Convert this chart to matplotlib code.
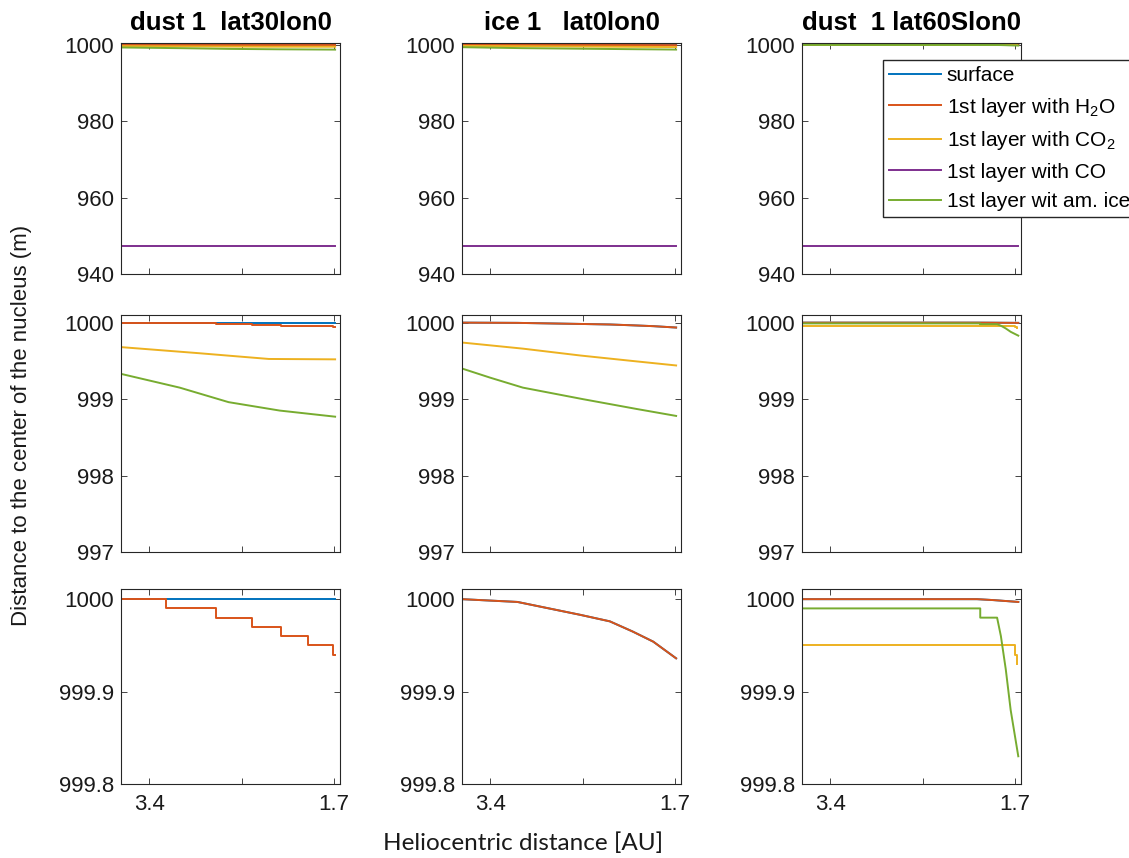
import matplotlib.pyplot as plt

# ---- data ----
titles = ["dust 1  lat30lon0", "ice 1   lat0lon0", "dust  1 lat60Slon0"]
labels = ["surface", "1st layer with H$_2$O", "1st layer with CO$_2$",
          "1st layer with CO", "1st layer wit am. ice"]

x_ticks = [3.4, 2.55, 1.7]
x_tick_labels = ["3.4", "", "1.7"]

y_ticks_top = [940, 960, 980, 1000]
y_ticks_mid = [997, 998, 999, 1000]
y_ticks_low = [999.8, 999.9, 1000]
y_labels_top = ["940", "960", "980", "1000"]
y_labels_mid = ["997", "998", "999", "1000"]
y_labels_low = ["999.8", "999.9", "1000"]

# column 1: dust 1 lat30lon0
surf_x_c1 = [3.66, 1.69]
surf_c1 = [1000.0, 1000.0]
h2o_x_c1 = [3.66, 3.244, 2.784, 2.453, 2.187, 1.939, 1.705, 1.69]
h2o_c1 = [1000.0, 999.99, 999.98, 999.97, 999.96, 999.95, 999.94, 999.94]
co2_x_c1 = [3.66, 3.3, 2.94, 2.6, 2.3, 1.69]
co2_c1 = [999.68, 999.64, 999.60, 999.56, 999.525, 999.52]
co_c1 = [947.4, 947.4]
ice_x_c1 = [3.66, 3.12, 2.67, 2.2, 1.69]
ice_c1 = [999.33, 999.15, 998.96, 998.85, 998.77]

# column 2: ice 1 lat0lon0 (surface follows the H2O layer)
h2o_x_c2 = [3.66, 3.15, 2.57, 2.3, 2.09, 1.9, 1.69]
h2o_c2 = [1000.0, 999.997, 999.983, 999.976, 999.965, 999.954, 999.936]
co2_x_c2 = [3.66, 3.1, 2.57, 2.1, 1.69]
co2_c2 = [999.74, 999.66, 999.57, 999.50, 999.44]
co_x_c2 = [3.66, 1.69]
co_c2 = [947.4, 947.4]
ice_x_c2 = [3.66, 3.4, 3.1, 2.55, 2.05, 1.69]
ice_c2 = [999.40, 999.28, 999.15, 999.00, 998.87, 998.78]

# column 3: dust 1 lat60Slon0 (surface hidden under the H2O layer)
h2o_x_c3 = [3.66, 2.05, 1.9, 1.67]
h2o_c3 = [1000.0, 1000.0, 999.999, 999.997]
co2_x_c3 = [3.66, 1.70, 1.685]
co2_c3 = [999.95, 999.94, 999.93]
co_x_c3 = [3.66, 1.675]
co_c3 = [947.4, 947.4]
ice_x_c3 = [3.66, 2.02, 2.02, 1.865, 1.83, 1.785, 1.74, 1.67]
ice_c3 = [999.99, 999.99, 999.98, 999.98, 999.96, 999.924, 999.88, 999.83]

colors = ["#0072BD", "#D95319", "#EDB120", "#7E2F8E", "#77AC30"]
axis_color = "#262626"

plt.rcParams['font.family'] = ['Liberation Sans', 'DejaVu Sans']
plt.rcParams['mathtext.fontset'] = 'custom'
plt.rcParams['mathtext.rm'] = 'Liberation Sans'
plt.rcParams['mathtext.it'] = 'Liberation Sans:italic'


def _series(col):
    # (x, y, drawstyle) for surface, H2O, CO2, CO, am. ice
    if col == 0:
        return [(surf_x_c1, surf_c1, "default"),
                (h2o_x_c1, h2o_c1, "steps-post"),
                (co2_x_c1, co2_c1, "default"),
                (surf_x_c1, co_c1, "default"),
                (ice_x_c1, ice_c1, "default")]
    if col == 1:
        return [(h2o_x_c2, h2o_c2, "default"),
                (h2o_x_c2, h2o_c2, "default"),
                (co2_x_c2, co2_c2, "default"),
                (co_x_c2, co_c2, "default"),
                (ice_x_c2, ice_c2, "default")]
    return [(h2o_x_c3, h2o_c3, "default"),
            (h2o_x_c3, h2o_c3, "default"),
            (co2_x_c3, co2_c3, "steps-post"),
            (co_x_c3, co_c3, "default"),
            (ice_x_c3, ice_c3, "default")]


fig = plt.figure(figsize=(11.29, 8.58), dpi=100)

col_left = [121, 462, 802]
row_box = [(43, 274), (315, 552), (589, 784)]   # top, bottom in pixels
row_lims = [(940, 1000.5), (997, 1000.1), (999.8, 1000.011)]
row_ticks = [(y_ticks_top, y_labels_top), (y_ticks_mid, y_labels_mid),
             (y_ticks_low, y_labels_low)]

W, H = 1129, 858
legend_lines = []
for r in range(3):
    top, bot = row_box[r]
    for c in range(3):
        ax = fig.add_axes([col_left[c] / W, 1 - bot / H, 219 / W, (bot - top) / H])
        for i, (xs, ys, ds) in enumerate(_series(c)):
            ln, = ax.plot(xs, ys, color=colors[i], lw=1.4, drawstyle=ds)
            if r == 0 and c == 2:
                legend_lines.append(ln)
        ax.set_xlim(3.66, 1.645)
        ax.set_ylim(*row_lims[r])
        ax.set_xticks(x_ticks)
        if r == 2:
            ax.set_xticklabels(x_tick_labels)
        else:
            ax.set_xticklabels([])
        ax.set_yticks(row_ticks[r][0])
        ax.set_yticklabels(row_ticks[r][1])
        ax.tick_params(direction="in", top=True, right=True, length=4,
                       width=0.6, colors=axis_color, labelsize=16,
                       labelcolor="#1a1a1a")
        ax.tick_params(axis="x", pad=7)
        ax.tick_params(axis="y", pad=5)
        for s in ax.spines.values():
            s.set_color(axis_color)
            s.set_linewidth(0.8)
        if r == 0:
            ax.set_title(titles[c], fontsize=18.5, fontweight="bold", pad=9)

fig.legend(legend_lines, labels, loc="upper left",
           bbox_to_anchor=(883 / W, 1 - 60 / H), fontsize=15,
           frameon=True, fancybox=False, framealpha=1, edgecolor=axis_color,
           handlelength=2.5, handletextpad=0.25, labelspacing=0.5,
           borderpad=0.3, borderaxespad=0)

fig.text(22 / W, 1 - 425 / H, "Distance to the center of the nucleus (m)",
         rotation=90, ha="center", va="center", fontsize=16, color="#1a1a1a")
fig.text(523 / W, 1 - 843 / H, "Heliocentric distance [AU]",
         ha="center", va="center", fontsize=17.5, family=["Lato", "DejaVu Sans"],
         color="#1a1a1a")

fig.savefig("out.png", dpi=100)
